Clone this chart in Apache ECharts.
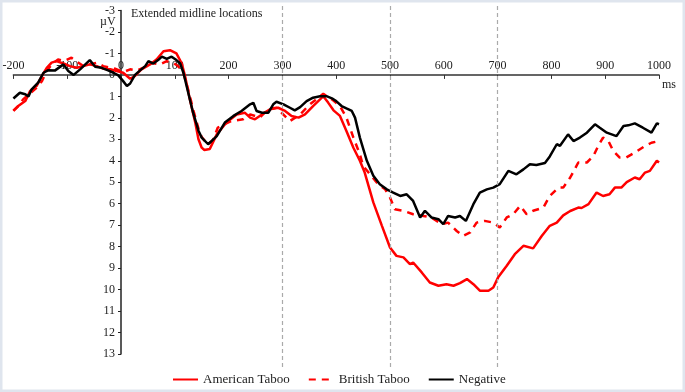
<!DOCTYPE html>
<html>
<head>
<meta charset="utf-8">
<script src="https://cdn.jsdelivr.net/npm/echarts@6/dist/echarts.min.js"></script>
<style>
  html, body { margin: 0; padding: 0; background: #fff; }
  #main { width: 685px; height: 392px; }
</style>
</head>
<body>
<div id="main"></div>
<script>
// values (ms, µV)
var americanTime = [-200,-191,-178,-169,-157,-147,-138,-129,-120,-107,-95,-82,-70,-58,-45,-33,-20,-8,4,17,26,38,54,66,79,91,103,113,119,128,138,144,150,155,165,178,196,215,230,240,249,262,277,292,305,317,330,342,357,370,376,385,395,407,419,432,444,453,469,485,500,512,525,537,543,559,574,590,605,618,630,643,655,667,683,692,701,717,732,748,766,782,797,810,822,835,850,856,869,884,896,908,918,930,940,955,964,974,983,996,1000];
var americanTaboo = [1.66,1.45,1.22,0.75,0.52,0.05,-0.33,-0.57,-0.64,-0.53,-0.41,-0.33,-0.41,-0.49,-0.41,-0.29,-0.26,-0.18,-0.1,0.18,0.05,-0.26,-0.49,-0.72,-1.1,-1.15,-1.0,-0.53,0.05,1.14,2.22,3.0,3.39,3.5,3.45,2.77,2.22,1.84,1.76,1.99,2.07,1.84,1.6,1.53,1.68,1.91,1.99,1.84,1.45,1.14,0.99,1.29,1.65,1.91,2.61,3.39,4.0,4.55,5.94,7.03,8.04,8.43,8.5,8.81,8.74,9.2,9.67,9.82,9.75,9.82,9.7,9.51,9.75,10.05,10.05,9.9,9.43,8.89,8.35,7.96,8.08,7.5,7.03,6.88,6.54,6.34,6.18,6.2,6.02,5.48,5.64,5.56,5.25,5.25,4.99,4.78,4.86,4.55,4.47,4.0,4.08];

var britishTime = [-200,-191,-182,-165,-157,-147,-138,-129,-117,-105,-92,-79,-70,-58,-45,-33,-20,-11,4,17,30,41,57,72,85,97,106,116,125,134,144,150,160,170,180,205,227,240,258,273,289,314,333,351,367,376,392,407,419,432,444,450,463,478,491,500,509,525,543,562,577,596,608,624,636,649,661,676,692,704,717,729,742,754,766,785,797,813,822,835,850,866,878,887,896,906,915,927,939,955,974,986,1000];
var britishTaboo = [1.68,1.45,1.14,0.77,0.6,0.29,-0.18,-0.49,-0.72,-0.65,-0.8,-0.57,-0.41,-0.49,-0.57,-0.41,-0.33,-0.29,-0.13,-0.26,-0.2,-0.33,-0.57,-0.49,-0.64,-0.57,-0.41,-0.1,0.7,1.6,2.5,2.9,3.2,3.1,2.45,2.15,2.07,1.84,1.99,1.6,1.53,2.15,1.84,1.37,1.06,0.88,1.14,1.45,1.99,2.92,3.7,4.24,4.63,5.09,5.33,5.71,6.26,6.33,6.49,6.57,6.64,6.95,6.88,7.27,7.5,7.34,6.88,6.8,6.88,7.11,6.64,6.49,6.1,6.49,6.33,6.18,5.64,5.25,5.25,4.78,4.08,4.08,3.78,3.31,2.92,3.08,3.54,3.85,3.85,3.62,3.31,3.16,3.08];

var negativeTime = [-200,-188,-178,-172,-166,-154,-144,-135,-123,-107,-98,-88,-76,-58,-48,-36,-24,-14,-5,4,11,17,26,35,45,51,60,69,76,85,94,103,110,116,125,134,144,150,162,178,193,209,224,240,246,252,262,274,283,289,302,314,323,333,345,357,370,382,392,400,410,419,429,435,444,457,469,481,494,506,519,531,543,556,565,577,590,599,608,621,630,641,655,667,680,692,704,720,735,748,760,772,788,797,810,816,831,841,853,866,881,890,903,921,934,943,955,970,986,996,1000];
var negative = [1.1,0.83,0.9,1.0,0.67,0.36,-0.1,-0.22,-0.2,-0.49,-0.18,0,-0.26,-0.69,-0.38,-0.33,-0.21,-0.1,0.02,0.29,0.52,0.4,0,-0.2,-0.41,-0.64,-0.53,-0.69,-0.85,-0.75,-0.85,-0.69,-0.53,-0.1,0.83,1.76,2.6,2.92,3.23,2.85,2.22,1.91,1.68,1.37,1.3,1.68,1.76,1.76,1.37,1.25,1.37,1.53,1.65,1.5,1.22,1.06,0.99,0.99,1.09,1.22,1.45,1.56,1.68,1.99,2.92,4.0,4.7,5.09,5.33,5.48,5.64,5.56,5.87,6.64,6.33,6.64,6.72,6.95,6.57,6.64,6.57,6.8,6.02,5.48,5.33,5.25,5.09,4.47,4.63,4.4,4.16,4.2,4.1,3.8,3.23,3.3,2.77,3.08,2.92,2.69,2.3,2.46,2.69,2.85,2.38,2.35,2.26,2.46,2.69,2.26,2.3];

var markerTimes = [300, 500, 700];

var serif = 'Liberation Serif';

// grid geometry: axes cross at (0 ms, 0 µV)
var G_LEFT = 13.4, G_RIGHT = 26, G_TOP = 10.5, G_BOTTOM = 38;
var plotW = 685 - G_LEFT - G_RIGHT;
var plotH = 392 - G_TOP - G_BOTTOM;
var xAxisShift = -(plotH * (13 / 16));   // move bottom axis up to 0 µV
var yAxisShift = -(plotW * (200 / 1200)); // move left axis right to 0 ms

function pairs(t, v) {
  return t.map(function (x, i) { return [x, v[i]]; });
}

var chartDom = document.getElementById('main');
var myChart = echarts.init(chartDom);
var option;

option = {
  animation: false,
  title: {
    text: 'Extended midline locations',
    left: 126,
    top: 3,
    textStyle: { fontFamily: serif, fontSize: 12, fontWeight: 'normal', color: '#222' }
  },
  legend: {
    left: 167,
    top: 368,
    itemWidth: 25,
    itemHeight: 12,
    itemGap: 18,
    itemStyle: { opacity: 0 },
    textStyle: { fontFamily: serif, fontSize: 13, color: '#222' },
    data: ['American Taboo', 'British Taboo', 'Negative']
  },
  grid: [
    { left: G_LEFT, right: G_RIGHT, top: G_TOP, bottom: G_BOTTOM, outerBoundsMode: 'none' },
    { left: G_LEFT, right: G_RIGHT, top: 5, bottom: 25, outerBoundsMode: 'none' }
  ],
  xAxis: [
    {
      type: 'value',
      min: -200,
      max: 1000,
      interval: 100,
      position: 'bottom',
      offset: xAxisShift,
      axisLine: { onZero: false, lineStyle: { color: '#333', width: 1.5 } },
      axisTick: { show: true, inside: false, length: 4, lineStyle: { color: '#333' } },
      axisLabel: {
        inside: true, margin: 3, fontFamily: serif, fontSize: 12, color: '#222',
        formatter: function (v) { return String(v); }
      },
      splitLine: { show: false }
    },
    {
      gridIndex: 1, type: 'value', min: -200, max: 1000, show: false
    }
  ],
  yAxis: [
    {
      type: 'value',
      inverse: true,
      min: -3,
      max: 13,
      interval: 1,
      position: 'left',
      offset: yAxisShift,
      axisLine: { show: true, onZero: false, lineStyle: { color: '#222', width: 1.5 } },
      axisTick: { show: true, length: 3, lineStyle: { color: '#222' } },
      axisLabel: { margin: 6, fontFamily: serif, fontSize: 12, color: '#222' },
      splitLine: { show: false }
    },
    {
      gridIndex: 1, type: 'value', min: 0, max: 1, show: false
    }
  ],
  graphic: [
    {
      type: 'text',
      left: 100,
      top: 16,
      style: { text: 'µV', font: '12px "Liberation Serif"', fill: '#222' }
    },
    {
      type: 'text',
      left: 662,
      top: 79,
      style: { text: 'ms', font: '12px "Liberation Serif"', fill: '#222' }
    },
    {
      type: 'rect',
      shape: { x: 1, y: 1, width: 683, height: 390 },
      style: { fill: 'none', stroke: '#dfe5ee', lineWidth: 3 },
      silent: true
    }
  ],
  series: [
    {
      name: 'markers',
      type: 'line',
      xAxisIndex: 1,
      yAxisIndex: 1,
      data: [],
      silent: true,
      markLine: {
        silent: true,
        symbol: 'none',
        label: { show: false },
        lineStyle: { color: '#aaa', type: [4, 3], width: 1.2 },
        data: markerTimes.map(function (t) { return { xAxis: t }; })
      }
    },
    {
      name: 'American Taboo',
      type: 'line',
      showSymbol: false,
      symbol: 'none',
      data: pairs(americanTime, americanTaboo),
      lineStyle: { color: '#ff0000', width: 2.5 },
      itemStyle: { color: '#ff0000' }
    },
    {
      name: 'British Taboo',
      type: 'line',
      showSymbol: false,
      symbol: 'none',
      data: pairs(britishTime, britishTaboo),
      lineStyle: { color: '#ff0000', width: 2.5, type: [7, 6] },
      itemStyle: { color: '#ff0000' }
    },
    {
      name: 'Negative',
      type: 'line',
      showSymbol: false,
      symbol: 'none',
      data: pairs(negativeTime, negative),
      lineStyle: { color: '#000', width: 2.5 },
      itemStyle: { color: '#000' }
    }
  ]
};

option && myChart.setOption(option);
</script>
</body>
</html>
